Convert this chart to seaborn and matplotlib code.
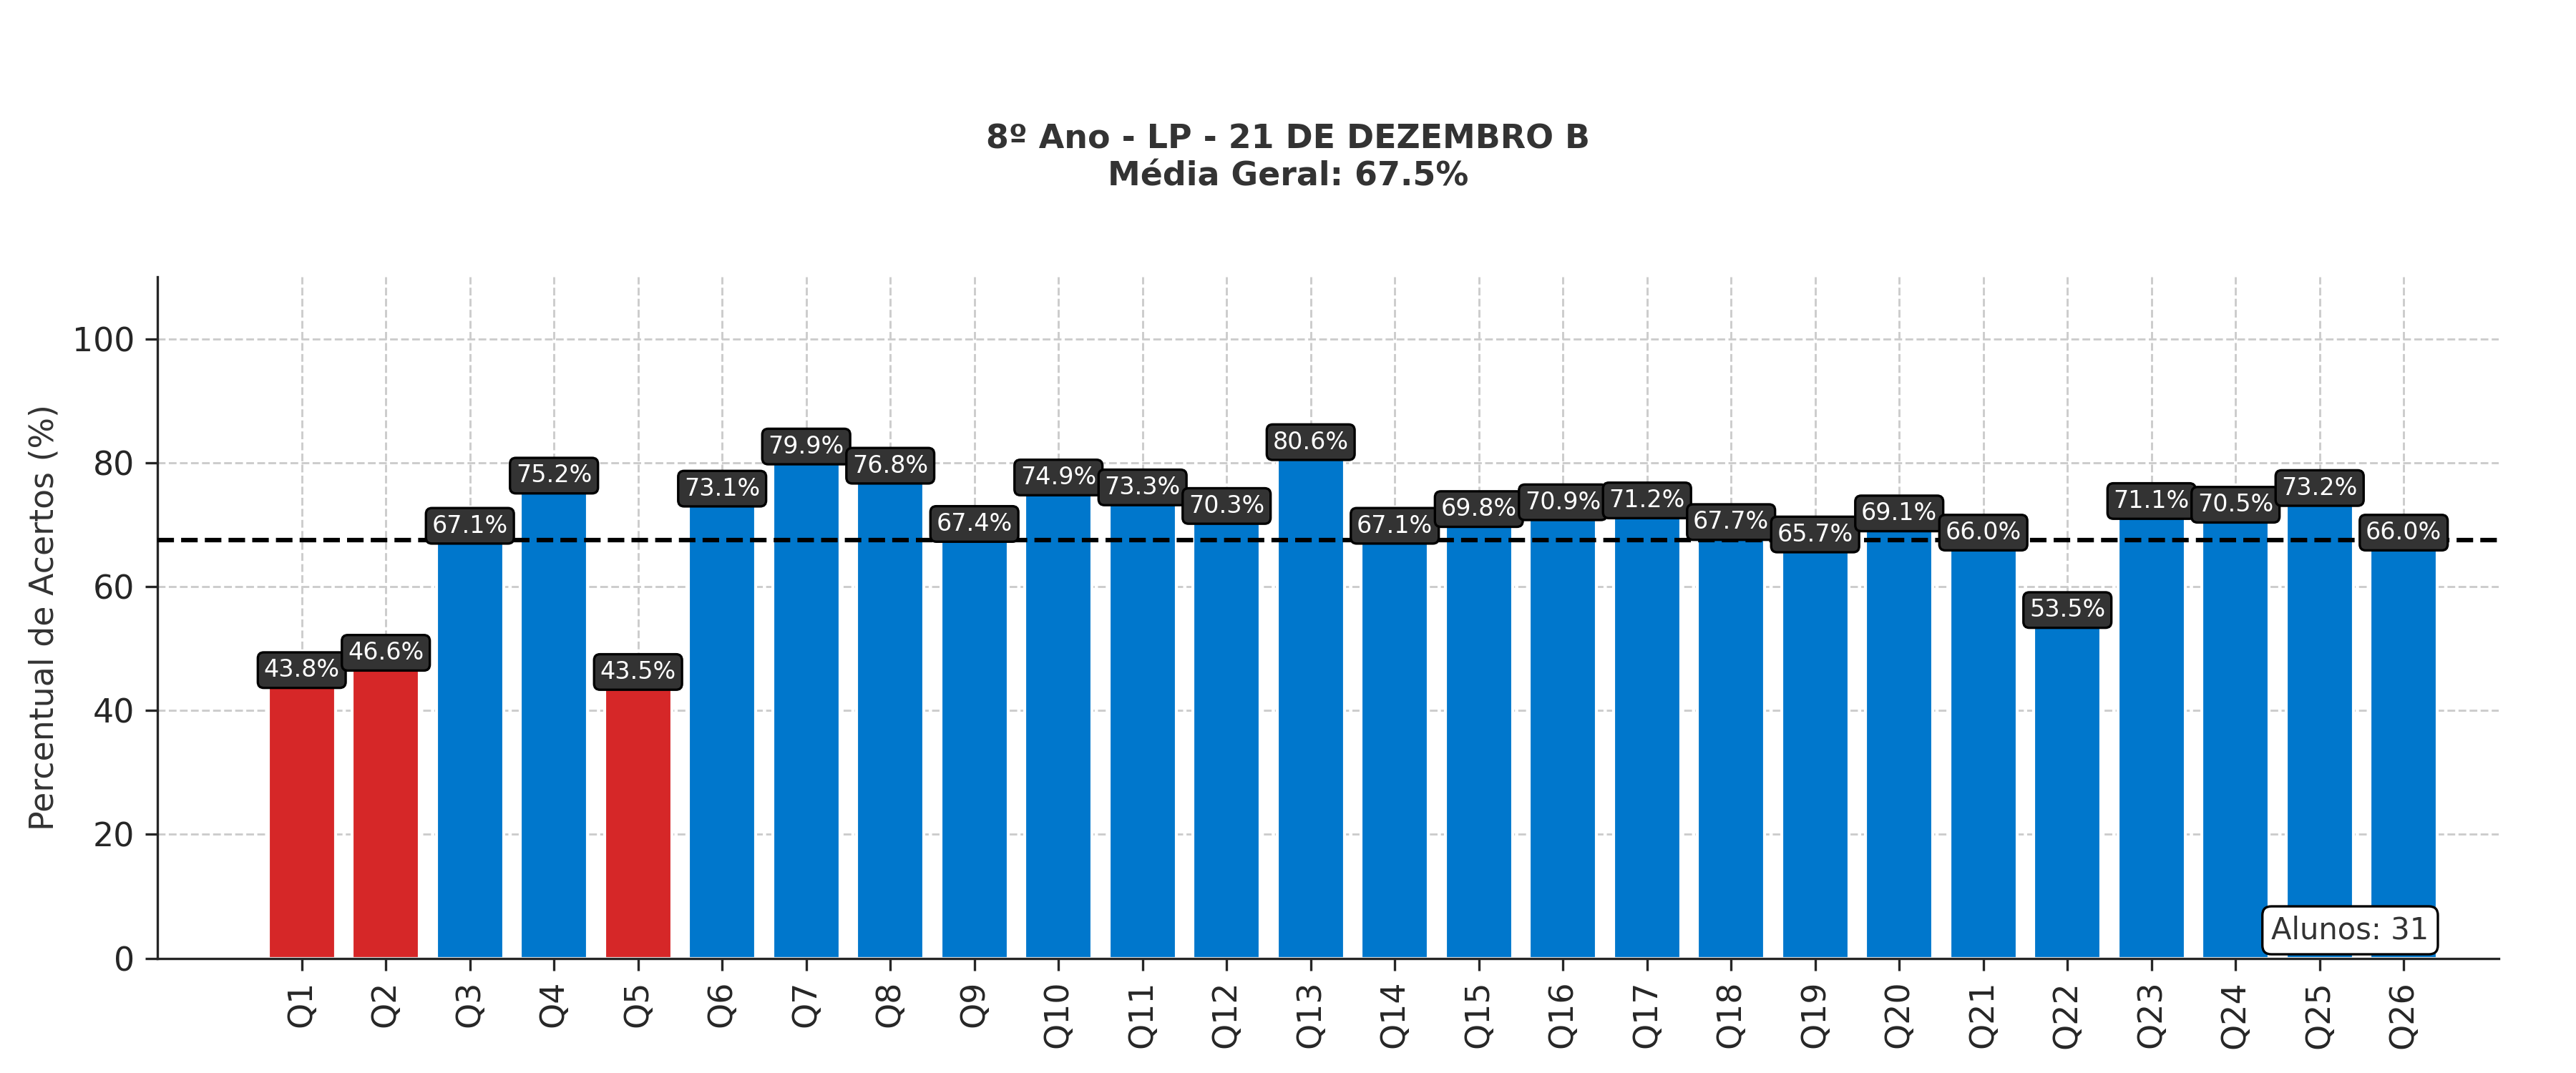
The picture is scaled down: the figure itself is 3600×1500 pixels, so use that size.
import matplotlib
matplotlib.use("Agg")
import matplotlib.pyplot as plt
import seaborn as sns
import pandas as pd

questions = [f"Q{i}" for i in range(1, 27)]
values = [43.8, 46.6, 67.1, 75.2, 43.5, 73.1, 79.9, 76.8, 67.4, 74.9, 73.3, 70.3, 80.6,
          67.1, 69.8, 70.9, 71.2, 67.7, 65.7, 69.1, 66.0, 53.5, 71.1, 70.5, 73.2, 66.0]
mean_value = 67.5
n_students = 31

df = pd.DataFrame({"q": questions, "v": values})
colors = ["#d62728" if v < 50 else "#0077cc" for v in values]

sns.set_style("white")
plt.rcParams['font.family'] = ['DejaVu Sans']

fig = plt.figure(figsize=(12, 5), dpi=300)
ax = fig.add_axes([0.061, 0.107, 0.909, 0.635])
sns.barplot(data=df, x="q", y="v", hue="q", palette=colors, legend=False,
            width=0.8, saturation=1, ax=ax, zorder=2)

ax.axhline(mean_value, color="black", linestyle="--", linewidth=1.5, zorder=3)
for i, v in enumerate(values):
    ax.text(i, v + 0.8, f"{v:.1f}%", ha="center", va="bottom", color="white", fontsize=8,
            zorder=4, bbox=dict(boxstyle="round,pad=0.25", fc="#333333", ec="black", lw=0.8))

ax.text(25.3, 4.5, f"Alunos: {n_students}", ha="right", va="center", fontsize=10, color="#333333",
        bbox=dict(boxstyle="round,pad=0.3", fc="white", ec="black", lw=0.8), zorder=5)

ax.set_xlim(-1.72, 26.13)
ax.set_ylim(0, 110)
ax.set_yticks([0, 20, 40, 60, 80, 100])
ax.grid(True, linestyle="--", color="#cccccc", linewidth=0.7, zorder=0)
ax.set_axisbelow(True)
ax.set_xlabel("")
ax.set_ylabel("Percentual de Acertos (%)", fontsize=11, color="#333333")
ax.tick_params(axis="x", rotation=90, labelsize=11, length=4, bottom=True)
ax.tick_params(axis="y", labelsize=11, length=4, left=True)
for s in ["top", "right"]:
    ax.spines[s].set_visible(False)
fig.suptitle(f"8º Ano - LP - 21 DE DEZEMBRO B\nMédia Geral: {mean_value:.1f}%",
             y=0.885, fontsize=11, fontweight="bold", color="#333333")
fig.savefig("out.png", dpi=300)
